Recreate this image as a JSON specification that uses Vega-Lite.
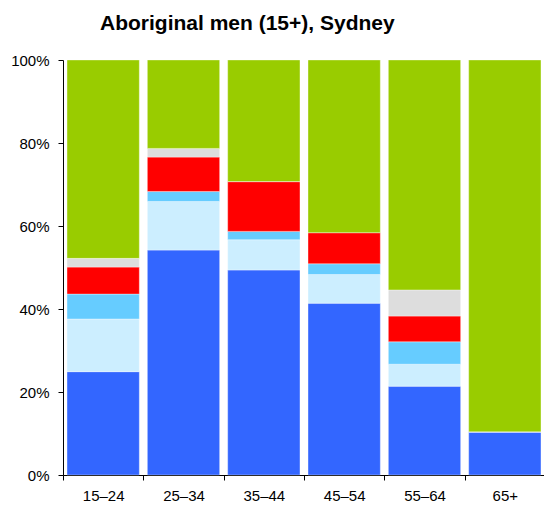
{
  "$schema": "https://vega.github.io/schema/vega-lite/v6.json",
  "width": 482,
  "height": 415,
  "autosize": {"type": "none"},
  "padding": {"left": 63, "top": 60, "right": 0, "bottom": 31},
  "background": "white",
  "title": {
    "text": "Aboriginal men (15+), Sydney",
    "anchor": "start",
    "frame": "group",
    "dx": 37,
    "offset": 19,
    "font": "Liberation Sans",
    "fontSize": 21,
    "fontWeight": "bold",
    "color": "black"
  },
  "data": {
    "values": [
      {"age": "15–24", "cat": "A", "ord": 1, "v": 24.9},
      {"age": "15–24", "cat": "B", "ord": 2, "v": 12.7},
      {"age": "15–24", "cat": "C", "ord": 3, "v": 6.0},
      {"age": "15–24", "cat": "D", "ord": 4, "v": 6.5},
      {"age": "15–24", "cat": "E", "ord": 5, "v": 2.1},
      {"age": "15–24", "cat": "F", "ord": 6, "v": 47.8},
      {"age": "25–34", "cat": "A", "ord": 1, "v": 54.2},
      {"age": "25–34", "cat": "B", "ord": 2, "v": 11.7},
      {"age": "25–34", "cat": "C", "ord": 3, "v": 2.4},
      {"age": "25–34", "cat": "D", "ord": 4, "v": 8.3},
      {"age": "25–34", "cat": "E", "ord": 5, "v": 2.1},
      {"age": "25–34", "cat": "F", "ord": 6, "v": 21.3},
      {"age": "35–44", "cat": "A", "ord": 1, "v": 49.4},
      {"age": "35–44", "cat": "B", "ord": 2, "v": 7.3},
      {"age": "35–44", "cat": "C", "ord": 3, "v": 2.0},
      {"age": "35–44", "cat": "D", "ord": 4, "v": 12.0},
      {"age": "35–44", "cat": "E", "ord": 5, "v": 0},
      {"age": "35–44", "cat": "F", "ord": 6, "v": 29.3},
      {"age": "45–54", "cat": "A", "ord": 1, "v": 41.4},
      {"age": "45–54", "cat": "B", "ord": 2, "v": 6.9},
      {"age": "45–54", "cat": "C", "ord": 3, "v": 2.6},
      {"age": "45–54", "cat": "D", "ord": 4, "v": 7.5},
      {"age": "45–54", "cat": "E", "ord": 5, "v": 0},
      {"age": "45–54", "cat": "F", "ord": 6, "v": 41.6},
      {"age": "55–64", "cat": "A", "ord": 1, "v": 21.4},
      {"age": "55–64", "cat": "B", "ord": 2, "v": 5.3},
      {"age": "55–64", "cat": "C", "ord": 3, "v": 5.4},
      {"age": "55–64", "cat": "D", "ord": 4, "v": 6.2},
      {"age": "55–64", "cat": "E", "ord": 5, "v": 6.3},
      {"age": "55–64", "cat": "F", "ord": 6, "v": 55.4},
      {"age": "65+", "cat": "A", "ord": 1, "v": 10.4},
      {"age": "65+", "cat": "B", "ord": 2, "v": 0},
      {"age": "65+", "cat": "C", "ord": 3, "v": 0},
      {"age": "65+", "cat": "D", "ord": 4, "v": 0},
      {"age": "65+", "cat": "E", "ord": 5, "v": 0},
      {"age": "65+", "cat": "F", "ord": 6, "v": 89.6}
    ]
  },
  "mark": {"type": "bar", "stroke": "white", "strokeOpacity": 0.35, "strokeWidth": 1},
  "encoding": {
    "x": {
      "field": "age",
      "type": "nominal",
      "sort": null,
      "scale": {"paddingInner": 0.1, "paddingOuter": 0.05},
      "axis": {
        "title": null,
        "labelAngle": 0,
        "domainColor": "black",
        "tickColor": "black",
        "tickSize": 5,
        "tickOffset": -40.17,
        "labelOffset": 40.17,
        "labelPadding": 8,
        "labelFont": "Liberation Sans",
        "labelFontSize": 15,
        "labelColor": "black"
      }
    },
    "y": {
      "field": "v",
      "type": "quantitative",
      "stack": "normalize",
      "scale": {"domain": [0, 1], "nice": false},
      "axis": {
        "title": null,
        "grid": false,
        "values": [0, 0.2, 0.4, 0.6, 0.8, 1],
        "format": ".0%",
        "domainColor": "black",
        "tickColor": "black",
        "tickSize": 5,
        "labelPadding": 9,
        "labelFont": "Liberation Sans",
        "labelFontSize": 15,
        "labelColor": "black"
      }
    },
    "color": {
      "field": "cat",
      "type": "nominal",
      "scale": {
        "domain": ["A", "B", "C", "D", "E", "F"],
        "range": ["#3366FF", "#CCEEFF", "#66CCFF", "#FF0000", "#DDDDDD", "#99CC00"]
      },
      "legend": null
    },
    "order": {"field": "ord", "type": "quantitative"}
  },
  "config": {"view": {"stroke": null}}
}
